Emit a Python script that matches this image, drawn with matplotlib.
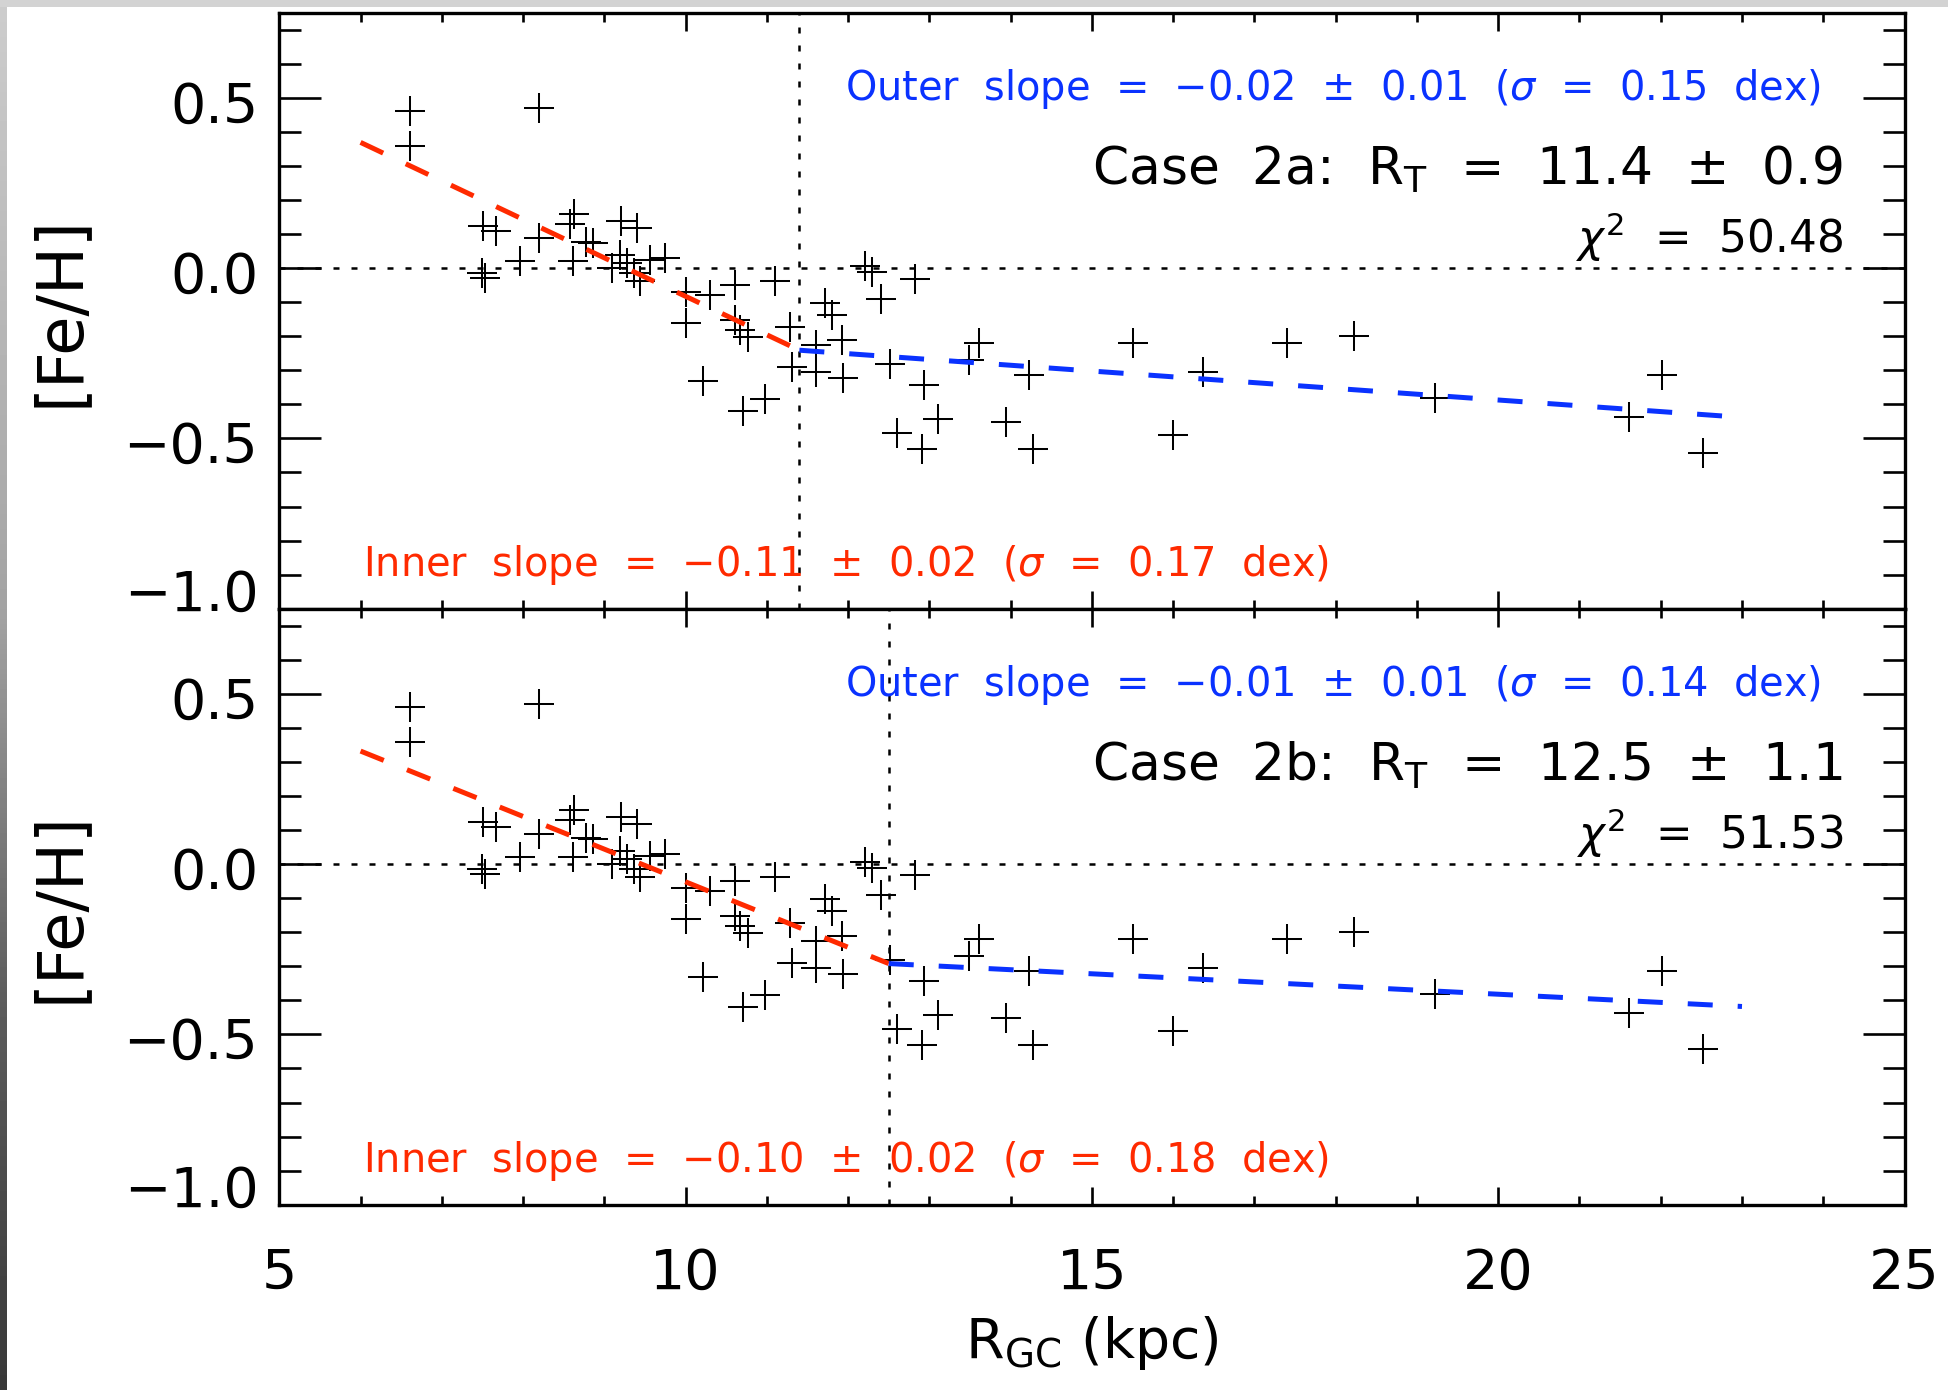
import numpy as np
import matplotlib
matplotlib.use("Agg")
import matplotlib.pyplot as plt
from matplotlib.patches import Rectangle
from matplotlib.ticker import MultipleLocator, FixedLocator
from matplotlib.transforms import blended_transform_factory, ScaledTranslation

plt.rcParams["font.family"] = ["DejaVu Sans"]
plt.rcParams["mathtext.fontset"] = "dejavusans"
plt.rcParams["mathtext.default"] = "regular"

# Galactocentric radius (kpc) and metallicity of the cluster sample
r_gc = [6.61, 6.61, 8.20, 7.51, 7.67, 7.50, 7.53, 8.20, 7.96, 8.63,
        8.58, 8.61, 8.78, 8.86, 9.21, 9.40, 9.19, 9.10, 9.28, 9.36,
        9.44, 9.56, 9.75, 10.01, 10.30, 10.61, 11.10, 10.01, 10.61, 10.67,
        10.77, 11.29, 10.22, 10.71, 10.98, 11.31, 11.72, 11.80, 11.61, 11.61,
        11.92, 11.94, 12.21, 12.30, 12.82, 12.41, 12.52, 12.93, 13.11, 12.60,
        12.91, 13.61, 13.49, 13.94, 14.23, 14.28, 15.51, 16.00, 16.37, 17.40,
        18.22, 19.22, 22.01, 21.61, 22.52]
feh = [0.46, 0.36, 0.47, 0.125, 0.108, -0.013, -0.030, 0.088, 0.020, 0.160,
       0.130, 0.020, 0.078, 0.075, 0.137, 0.118, 0.039, 0.000, 0.015, -0.015,
       -0.039, 0.024, 0.029, -0.069, -0.079, -0.051, -0.039, -0.162, -0.152, -0.182,
       -0.201, -0.172, -0.331, -0.420, -0.383, -0.290, -0.103, -0.138, -0.226, -0.305,
       -0.211, -0.324, 0.005, -0.010, -0.032, -0.092, -0.282, -0.344, -0.444, -0.483,
       -0.530, -0.221, -0.269, -0.452, -0.314, -0.530, -0.221, -0.491, -0.305, -0.221,
       -0.199, -0.380, -0.314, -0.437, -0.543]

# Two-slope gradient fits
case_names = ["2a", "2b"]
r_t = [11.4, 12.5]
r_t_err = [0.9, 1.1]
chi2 = [50.48, 51.53]
feh_at_rt = [-0.241, -0.292]
inner_slope = [-0.113, -0.096]
inner_slope_err = [0.02, 0.02]
inner_sigma = [0.17, 0.18]
outer_slope = [-0.017, -0.012]
outer_slope_err = [0.01, 0.01]
outer_sigma = [0.15, 0.14]
fit_r_min = 6.0
fit_r_max = 23.0

ytick_vals = [-1.0, -0.5, 0.0, 0.5]
ytick_text = ["\u22121.0", "\u22120.5", "0.0", "0.5"]
xtick_vals = [5, 10, 15, 20, 25]
xtick_text = ["5", "10", "15", "20", "25"]

RED = "#ff2a00"
BLUE = "#0a32ff"
W, H = 1948, 1390
DPI = 100


def fmt(v, nd=2):
    return f"{v:.{nd}f}".replace("-", "\u2212")


fig = plt.figure(figsize=(W / DPI, H / DPI), dpi=DPI)
fig.patch.set_facecolor("white")

left_px, right_px = 279.3, 1904.5
top_px, panel_h = 12.7, 596.0
axes = []
for i in range(2):
    y_top = top_px + i * panel_h
    ax = fig.add_axes([left_px / W, 1 - (y_top + panel_h) / H,
                       (right_px - left_px) / W, panel_h / H])
    axes.append(ax)

sigma_txt = r"$\mathit{\sigma}$"
for i, ax in enumerate(axes):
    ax.set_xlim(5, 25)
    ax.set_ylim(-1.0, 0.75)

    # reference lines
    ax.axhline(0.0, color="black", lw=1.8, dashes=(2.4, 4.8), zorder=1)
    ax.axvline(r_t[i], color="black", lw=1.8, dashes=(2.4, 4.8), zorder=1)

    # data
    ax.plot(r_gc, feh, linestyle="none", marker="+", ms=21, mew=1.45,
            color="black", zorder=3)

    # inner and outer fits, joined at R_T
    xi = np.array([fit_r_min, r_t[i]])
    ax.plot(xi, feh_at_rt[i] + inner_slope[i] * (xi - r_t[i]), color=RED,
            lw=3.6, dashes=(5, 5), zorder=4)
    xo = np.array([r_t[i], fit_r_max])
    ax.plot(xo, feh_at_rt[i] + outer_slope[i] * (xo - r_t[i]), color=BLUE,
            lw=3.6, dashes=(5, 5), zorder=4)

    # annotations
    ax.text(0.9486, 0.8535,
            f"Outer  slope  =  {fmt(outer_slope[i])}  \u00b1  {fmt(outer_slope_err[i])}"
            f"  ({sigma_txt}  =  {fmt(outer_sigma[i])}  dex)",
            transform=ax.transAxes, ha="right", va="baseline", fontsize=28.7,
            color=BLUE)
    ax.text(0.9616, 0.7109,
            f"Case  {case_names[i]}:  R$_{{\\rm T}}$  =  {fmt(r_t[i], 1)}  \u00b1  {fmt(r_t_err[i], 1)}",
            transform=ax.transAxes, ha="right", va="baseline", fontsize=37.4,
            color="black")
    ax.text(0.9622, 0.5963,
            f"$\\mathit{{\\chi}}^{{\\rm 2}}$  =  {fmt(chi2[i])}",
            transform=ax.transAxes, ha="right", va="baseline", fontsize=31.5,
            color="black")
    ax.text(0.0512, 0.0554,
            f"Inner  slope  =  {fmt(inner_slope[i])}  \u00b1  {fmt(inner_slope_err[i])}"
            f"  ({sigma_txt}  =  {fmt(inner_sigma[i])}  dex)",
            transform=ax.transAxes, ha="left", va="baseline", fontsize=28.7,
            color=RED)

    # axes frame and ticks
    for sp in ax.spines.values():
        sp.set_linewidth(2.4)
    ax.xaxis.set_major_locator(MultipleLocator(5))
    ax.xaxis.set_minor_locator(MultipleLocator(1))
    ax.yaxis.set_major_locator(FixedLocator(ytick_vals))
    ax.yaxis.set_minor_locator(MultipleLocator(0.1))
    ax.tick_params(axis="x", which="major", direction="in", length=13, width=1.9,
                   top=True, bottom=True, labelbottom=False)
    ax.tick_params(axis="x", which="minor", direction="in", length=6.5, width=1.9,
                   top=True, bottom=True)
    ax.tick_params(axis="y", which="major", direction="in", length=30, width=1.9,
                   left=True, right=True, labelleft=False)
    ax.tick_params(axis="y", which="minor", direction="in", length=15.6, width=1.9,
                   left=True, right=True)

    # y tick labels
    ytrans = blended_transform_factory(ax.transAxes, ax.transData)
    for v, t in zip(ytick_vals, ytick_text):
        dy = 0.02 if v == ytick_vals[0] else 0.245
        ax.text(0, v, t, transform=ytrans + ScaledTranslation(-0.21, -dy, fig.dpi_scale_trans),
                ha="right", va="baseline", fontsize=40)

    # y axis title
    fig.text(60 / W, 1 - (top_px + i * panel_h + panel_h / 2) / H, "[Fe/H]",
             rotation=90, ha="center", va="center", fontsize=46)

# x tick labels on the lower panel
axb = axes[1]
xtrans = blended_transform_factory(axb.transData, axb.transAxes)
for v, t in zip(xtick_vals, xtick_text):
    axb.text(v, 0, t, transform=xtrans + ScaledTranslation(0, -0.84, fig.dpi_scale_trans),
             ha="center", va="baseline", fontsize=40)
fig.text(1092 / W, 1 - 1358 / H, r"R$_{\rm GC}$ (kpc)", ha="center",
         va="baseline", fontsize=40)

# window frame: grey strip along the top and shaded strip on the left
gax = fig.add_axes([0, 0, 7 / W, 1 - 7 / H])
shade_y = np.array([0, 600, 1000, 1390])
shade_v = np.array([0.80, 0.64, 0.36, 0.22])
rows = np.interp(np.arange(0, 1390, 5), shade_y, shade_v)[:, None]
gax.imshow(rows, cmap="gray", vmin=0, vmax=1, aspect="auto")
gax.axis("off")
fig.add_artist(Rectangle((0, 1 - 7 / H), 1, 7 / H, transform=fig.transFigure,
                         facecolor="#d3d3d3", edgecolor="none", zorder=10))

fig.savefig("out.png", dpi=DPI)
